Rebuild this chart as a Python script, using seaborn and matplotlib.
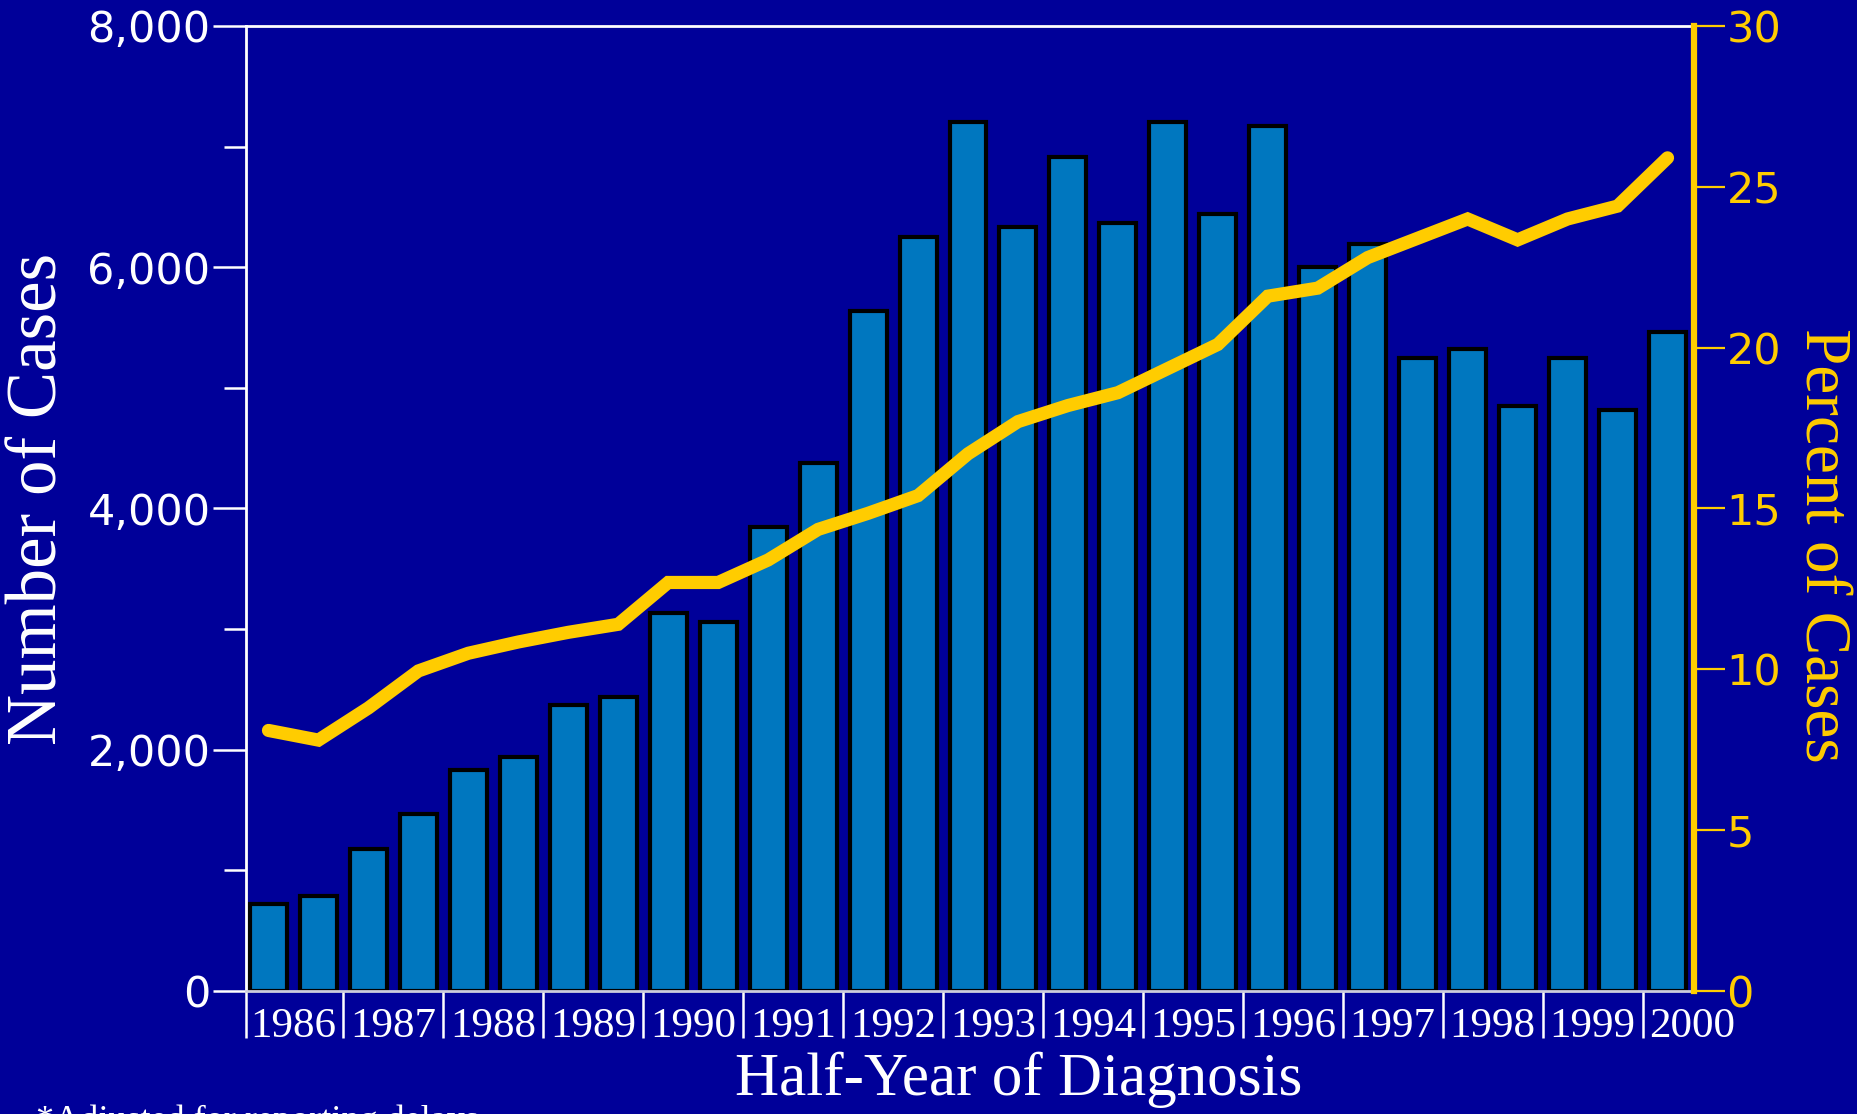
import numpy as np
import pandas as pd
import matplotlib
matplotlib.use("Agg")
import matplotlib.pyplot as plt
import matplotlib.transforms as mtransforms
import seaborn as sns

# --- data ---
years = list(range(1986, 2001))
half_years = [f"{y}-{h}" for y in years for h in ("H1", "H2")][:29]
cases = [720, 790, 1180, 1470, 1830, 1940, 2370, 2440, 3130, 3060,
         3850, 4380, 5640, 6250, 7200, 6330, 6910, 6370, 7200, 6440,
         7170, 6000, 6190, 5250, 5320, 4850, 5250, 4820, 5460]
percent = [8.1, 7.8, 8.8, 9.95, 10.5, 10.85, 11.15, 11.4, 12.7, 12.7,
           13.4, 14.35, 14.85, 15.4, 16.7, 17.7, 18.2, 18.6, 19.35, 20.1,
           21.6, 21.85, 22.8, 23.4, 24.0, 23.35, 24.0, 24.4, 25.9]
left_ticks = [0, 2000, 4000, 6000, 8000]
left_minor = [1000, 3000, 5000, 7000]
right_ticks = [0, 5, 10, 15, 20, 25, 30]

BG = "#000099"
BAR = "#0077BF"
YEL = "#FFCC00"
WHITE = "#FFFFFF"
SERIF = ["Liberation Serif", "DejaVu Serif"]
SANS = ["DejaVu Sans"]

sns.set_theme(style="ticks")
plt.rcParams["font.family"] = SANS

df = pd.DataFrame({"half": half_years, "cases": cases, "percent": percent})

fig = plt.figure(figsize=(18.58, 11.14), dpi=100, facecolor=BG)
ax = fig.add_axes([0.1324, 0.1104, 0.912 - 0.1324, 0.9767 - 0.1104])
ax.set_facecolor(BG)

sns.barplot(data=df, x="half", y="cases", color=BAR, saturation=1,
            edgecolor="black", linewidth=3, width=0.74, ax=ax)
ax.set_ylim(0, 8000)
ax.set_xlim(-0.45, 28.54)
ax.set_xlabel("")
ax.set_ylabel("")

# left axis
ax.set_yticks(left_ticks)
ax.set_yticklabels([f"{v:,}" for v in left_ticks], color=WHITE, fontsize=31, family=SANS)
ax.set_yticks(left_minor, minor=True)
ax.tick_params(axis="y", which="major", direction="out", length=24, width=1.8,
               color=WHITE, pad=1.5)
ax.tick_params(axis="y", which="minor", direction="out", length=16, width=1.8,
               color=WHITE)

# bottom: year separators
seps = [-0.45] + [1.5 + 2 * k for k in range(14)]
ax.set_xticks(seps)
ax.set_xticklabels([])
ax.tick_params(axis="x", which="major", direction="out", length=34, width=1.8,
               color=WHITE)
trans = mtransforms.blended_transform_factory(ax.transData, ax.transAxes)
for k, yr in enumerate(years):
    ax.text(2 * k - 0.36, -0.017, str(yr), transform=trans, ha="left", va="top",
            color=WHITE, fontsize=31, family=SERIF)

for side in ("left", "top"):
    ax.spines[side].set_color(WHITE)
    ax.spines[side].set_linewidth(2)
ax.spines["bottom"].set_color("#CCCCDD")
ax.spines["bottom"].set_linewidth(2)
ax.spines["right"].set_visible(False)

# right axis: percent line
ax2 = ax.twinx()
sns.lineplot(x=np.arange(len(percent)), y=percent, ax=ax2, color=YEL,
             linewidth=9.5, solid_joinstyle="miter")
ax2.set_ylim(0, 30)
ax2.set_xlim(-0.45, 28.54)
ax2.set_yticks(right_ticks)
ax2.set_yticklabels([str(v) for v in right_ticks], color=YEL, fontsize=31, family=SANS)
ax2.tick_params(axis="y", direction="out", length=22, width=1.6, color=YEL, pad=1)
ax2.set_ylabel("")
for side in ("left", "top", "bottom"):
    ax2.spines[side].set_visible(False)
ax2.spines["right"].set_color(YEL)
ax2.spines["right"].set_linewidth(4.5)

# axis titles
fig.text(39 / 1858, 1 - 499 / 1114, "Number of Cases", rotation=90, ha="center",
         va="center", color=WHITE, fontsize=51, family=SERIF)
fig.text(1821 / 1858, 1 - 545 / 1114, "Percent of Cases", rotation=-90, ha="center",
         va="center", color=YEL, fontsize=47, family=SERIF)
fig.text(1019 / 1858, 1 - 1080 / 1114, "Half-Year of Diagnosis", ha="center",
         va="center", color=WHITE, fontsize=44, family=SERIF)
# footnote sits mostly below the frame, as in the reference
fig.text(36 / 1858, 1 - 1104 / 1114, "*Adjusted for reporting delays", ha="left",
         va="top", color=WHITE, fontsize=26, family=SERIF)

fig.savefig("out.png", dpi=100, facecolor=BG)
